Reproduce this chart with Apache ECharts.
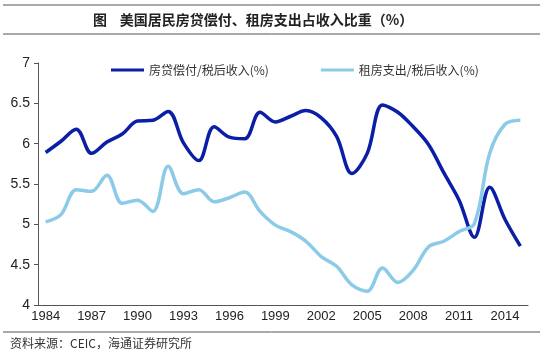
<!DOCTYPE html>
<html><head><meta charset="utf-8">
<script src="https://cdn.jsdelivr.net/npm/echarts@6/dist/echarts.min.js"></script>
<style>html,body{margin:0;padding:0;background:#fff}#c{width:550px;height:360px}</style>
</head><body><div id="c"></div>
<script>
const years = [];
for (let y = 1984; y <= 2015; y++) years.push(String(y));
const mortgage = [5.89,6.03,6.18,5.88,6.02,6.12,6.28,6.29,6.40,6.01,5.79,6.21,6.08,6.06,6.39,6.27,6.34,6.41,6.32,6.09,5.63,5.88,6.48,6.39,6.21,5.99,5.64,5.30,4.84,5.46,5.06,4.73];
const rent = [5.03,5.12,5.43,5.41,5.61,5.26,5.30,5.16,5.72,5.38,5.43,5.28,5.33,5.40,5.16,4.99,4.91,4.79,4.60,4.48,4.25,4.17,4.46,4.28,4.43,4.72,4.79,4.91,5.01,5.88,6.24,6.29];
const yTicks = [4,4.5,5,5.5,6,6.5,7];
const titleText = '图    美国居民房贷偿付、租房支出占收入比重（%）';
const sourceText = '资料来源：CEIC，海通证券研究所';
const names = ['房贷偿付/税后收入(%)','租房支出/税后收入(%)'];

const chart = echarts.init(document.getElementById('c'));
const cjk = '"Noto Sans CJK SC", sans-serif';
chart.setOption({
  backgroundColor:'#fff',
  animation:false,
  title:{text:titleText,left:88,top:8,textStyle:{fontFamily:cjk,fontSize:14,fontWeight:'bold',color:'#222'}},
  graphic:[
    {type:'line',shape:{x1:3,y1:5,x2:540,y2:5},style:{stroke:'#555',lineWidth:1}},
    {type:'line',shape:{x1:3,y1:34,x2:540,y2:34},style:{stroke:'#555',lineWidth:1}},
    {type:'line',shape:{x1:3,y1:332,x2:540,y2:332},style:{stroke:'#555',lineWidth:1}},
    {type:'text',left:10,top:337,style:{text:sourceText,font:'12px '+cjk,fill:'#333'}}
  ],
  legend:{top:59,left:106,itemGap:52,itemWidth:33,itemHeight:3,icon:'rect',
    textStyle:{fontFamily:cjk,fontSize:12,color:'#333'},data:names},
  grid:{left:38,right:22,top:63,bottom:55},
  xAxis:{type:'category',data:years,boundaryGap:true,
    axisLine:{lineStyle:{color:'#555'}},
    axisTick:{interval:2,length:4,lineStyle:{color:'#555'}},
    axisLabel:{interval:2,color:'#222',fontFamily:'Arial, "Liberation Sans", sans-serif',fontSize:13,margin:5}},
  yAxis:{type:'value',min:4,max:7,interval:0.5,
    axisLine:{show:true,lineStyle:{color:'#555'}},
    axisTick:{show:true,length:4,lineStyle:{color:'#555'}},
    splitLine:{show:false},
    axisLabel:{color:'#222',fontFamily:'Arial, "Liberation Sans", sans-serif',fontSize:14,margin:8,
      formatter:v=>yTicks.includes(v)?String(v):''}},
  series:[
    {name:names[0],type:'line',data:mortgage,smooth:0.35,symbol:'none',lineStyle:{color:'#0b1ea6',width:3.5},itemStyle:{color:'#0b1ea6'}},
    {name:names[1],type:'line',data:rent,smooth:0.35,symbol:'none',lineStyle:{color:'#8ccbe8',width:3.5},itemStyle:{color:'#8ccbe8'}}
  ]
});
</script></body></html>
